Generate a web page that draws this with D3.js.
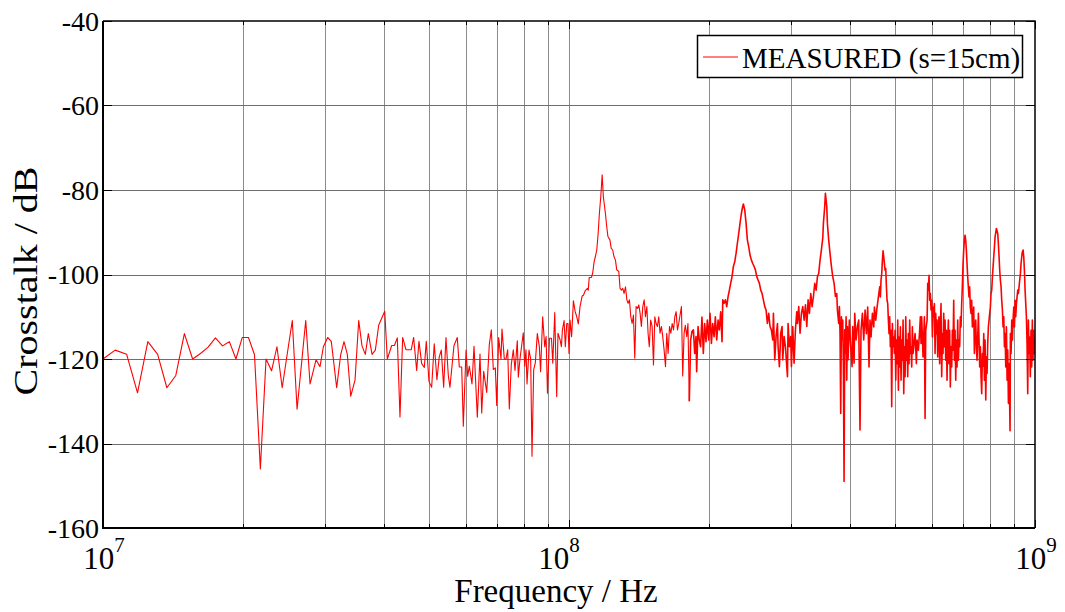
<!DOCTYPE html>
<html>
<head>
<meta charset="utf-8">
<script src="https://cdn.jsdelivr.net/npm/d3@7/dist/d3.min.js"></script>
<style>
  body { margin: 0; background: #fff; }
  svg { display: block; font-family: 'Liberation Serif', 'Times New Roman', serif; }
  .grid line { stroke: #8c8c8c; stroke-width: 1; shape-rendering: crispEdges; }
  .tick-mark { stroke: #000; stroke-width: 1.2; shape-rendering: crispEdges; }
  .trace { fill: none; stroke: #ff0000; stroke-width: 1.1; stroke-linejoin: round; }
  .trace.dense { stroke-width: 1.6; }
</style>
</head>
<body>
<svg id="chart" width="1065" height="612"></svg>
<script>
// measured crosstalk, [frequency in MHz, level in dB]
const sweepLow = [
  [10.00, -120], [10.62, -117.9], [11.24, -118.9], [11.86, -128], [12.48, -115.9], [13.10, -118.9],
  [13.71, -126.8], [14.33, -123.9], [14.95, -114], [15.57, -120], [16.19, -118.7], [16.81, -117.2],
  [17.43, -115], [18.05, -116.9], [18.67, -115.9], [19.29, -120], [19.90, -114.9], [20.52, -114.9],
  [21.14, -119], [21.76, -146], [22.38, -120], [23.00, -122.8], [23.62, -117.1], [24.24, -126.8],
  [24.86, -118.7], [25.48, -110.9], [26.09, -131.9], [27.23, -110.9], [27.82, -125.9], [28.65, -120.2],
  [29.22, -121.8], [29.71, -117.1], [30.35, -114.9], [30.90, -115.9], [31.73, -126.8], [32.36, -119],
  [32.90, -115.9], [33.44, -118.9], [34.01, -128.8], [34.74, -125], [35.38, -110.9], [35.96, -116.9],
  [36.55, -118.9], [37.10, -114], [37.79, -118.9], [38.41, -117.9], [39.05, -112]
]

const sweepMid = [
  [40.23, -108.7], [40.75, -120], [41.64, -116.8], [42.19, -116.8], [42.81, -115], [43.38, -133.7],
  [43.96, -114.9], [44.68, -117.8], [45.87, -117.8], [46.41, -114.9], [47.11, -122.7], [47.65, -115.8],
  [48.29, -121.1], [48.92, -122], [49.40, -115.8], [50.06, -125.3], [50.73, -126.7], [51.38, -116.4],
  [52.07, -124.9], [52.67, -119.5], [53.20, -117.9], [53.83, -126.7], [54.45, -114.9], [55.08, -123.9],
  [55.53, -126.7], [56.65, -116.8], [57.58, -114.9], [58.16, -121.9], [58.85, -121.9], [59.32, -135.9],
  [60.12, -117.9], [60.62, -124.1], [61.11, -121.7], [61.92, -125.9], [62.54, -117], [63.57, -133.8],
  [64.42, -118.8], [64.97, -132.8], [65.60, -122.9], [66.59, -127.9], [67.45, -116.6], [68.12, -113.1],
  [68.80, -122.5], [69.49, -122.1], [69.97, -131], [70.65, -114.9], [71.46, -120], [71.81, -112.9],
  [72.64, -120], [73.25, -120], [73.86, -117.8], [74.46, -131.8], [75.20, -121.2], [75.95, -117.8],
  [76.58, -122.7], [77.46, -115.7], [77.84, -124.3], [78.49, -120], [79.78, -113.8], [80.33, -121.7],
  [80.85, -117.8], [81.26, -125.9], [82.07, -117.9], [82.75, -120], [83.29, -143], [83.99, -122.5],
  [84.67, -120.9], [85.51, -114], [86.36, -117]
]

// first resonance (~118 MHz) and the floor up to 180 MHz
const sweepPeak1 = [
  [86.9, -123], [87.8, -110], [88.7, -117.1], [89.3, -114.7], [89.9, -128.1], [90.8, -115.1],
  [91.7, -115.1], [92.3, -121], [93.2, -109], [94.1, -128.9], [94.7, -113.9], [95.7, -115.5],
  [96.3, -117.1], [96.8, -113.1], [97.6, -110.9], [98.2, -117.1], [98.9, -111.6], [99.5, -111.6],
  [100.0, -118.7], [100.5, -110.8], [101.3, -114.7], [102.2, -106.2], [103.1, -108.8], [103.9, -110],
  [104.7, -111.7], [105.6, -107.6], [106.7, -105.1], [107.4, -104.9], [108.4, -103.8], [109.5, -103.3],
  [110.0, -103.7], [110.5, -100.7], [111.7, -100.7], [112.4, -99.7], [113.2, -97], [113.9, -95.8],
  [114.7, -94.2], [115.5, -90.3], [116.2, -85.5], [117.0, -81.6], [117.8, -76.4], [118.5, -81.6],
  [119.7, -85.5], [120.5, -88.7], [121.2, -91], [122.4, -91.8], [123.2, -93.8], [124.1, -94.2],
  [124.9, -95.8], [125.8, -96.6], [126.6, -98.9], [127.9, -99.3], [128.7, -103.3], [129.6, -103.7],
  [130.4, -103.3], [131.3, -104.5], [132.2, -102.9], [133.1, -106], [133.9, -106.8], [134.8, -106],
  [135.7, -110], [136.6, -111.6], [137.5, -109.6], [138.4, -119.8], [139.3, -107.6], [140.3, -108],
  [141.2, -107.2], [142.1, -109.2], [143.0, -112.3], [144.0, -107.6], [145.0, -106], [145.9, -110],
  [146.9, -107.6], [147.8, -113.9], [148.7, -117.1], [149.7, -110.8], [150.8, -112.3], [151.8, -121.4],
  [152.8, -110], [153.8, -111.6], [154.8, -112.3], [155.8, -110], [156.8, -113.9], [157.9, -112.3],
  [158.9, -114.7], [160.0, -117.9], [161.1, -121.8], [162.1, -113.9], [163.2, -118.7], [164.3, -112.3],
  [165.4, -113.9], [166.5, -111.6], [167.6, -113.1], [168.7, -110], [169.8, -108.8], [170.9, -113.1],
  [172.0, -111.6], [173.1, -109.6], [174.3, -107.6], [175.4, -124], [176.6, -113.9], [177.7, -112],
  [178.9, -114.7], [180.0, -111.6], [181.2, -130]
]

// second and third resonances (~237 MHz, ~355 MHz)
const sweepPeak23 = [
  [182.4, -115.5], [183.6, -113.5], [184.9, -113.1], [186.1, -118.7], [187.3, -114.7], [187.9, -123],
  [189.2, -112.3], [190.4, -115.5], [191.6, -117.1], [192.9, -110.1], [194.2, -118.7], [195.5, -111.6],
  [196.8, -115.9], [198.1, -110.8], [199.4, -115.5], [200.7, -109.2], [202.1, -116.3], [203.4, -111.6],
  [204.8, -114.7], [206.1, -110], [207.5, -115.5], [208.9, -110.8], [210.2, -113.1], [211.6, -108.8],
  [213.0, -115.9], [213.8, -106], [215.2, -106.8], [216.6, -106], [218.0, -107.6], [219.5, -105.2],
  [220.9, -103.7], [222.3, -102.1], [223.8, -100.5], [225.3, -98.1], [226.8, -97], [228.3, -95],
  [229.8, -92.6], [231.3, -90.3], [232.8, -87.9], [234.4, -85.5], [235.9, -83.9], [236.7, -83.3],
  [238.3, -84.7], [239.9, -87.9], [241.4, -91.8], [243.0, -93.4], [244.6, -95.4], [246.3, -96.6],
  [247.9, -97.4], [249.6, -98.1], [251.2, -98.9], [252.9, -100.5], [254.5, -101.3], [256.2, -102.1],
  [257.9, -103.7], [259.6, -104.5], [261.3, -106], [263.1, -107.6], [264.8, -108.4], [266.5, -111.6],
  [268.3, -109.2], [270.0, -112.3], [271.8, -113.1], [273.7, -115.5], [274.6, -109.2], [276.4, -120.2],
  [278.2, -114.7], [280.1, -111.6], [281.0, -117.1], [282.8, -121.8], [284.7, -113.9], [286.6, -112.3],
  [287.5, -120.2], [289.5, -114.7], [291.4, -117.1], [293.3, -121.8], [294.3, -124.2], [295.2, -111.6],
  [297.1, -117.1], [299.1, -114.7], [300.1, -121.8], [302.1, -112.3], [304.1, -121], [306.1, -113.1],
  [308.2, -108.8], [309.2, -111.6], [311.2, -107.6], [313.2, -113.9], [315.3, -109.2], [317.4, -107.6],
  [319.6, -110.8], [321.7, -107.2], [323.8, -112.3], [325.9, -106], [328.0, -109.2], [330.2, -104.5],
  [332.4, -107.6], [334.6, -105.2], [336.8, -102.1], [339.1, -103.7], [341.3, -100.5], [343.5, -99.7],
  [345.7, -96.6], [348.0, -94.2], [350.4, -91.4], [351.5, -87.9], [353.8, -83.9], [355.0, -80.8],
  [357.4, -83.9], [358.5, -87.9], [360.8, -91.8], [363.2, -95], [365.7, -98.1], [368.1, -100.5],
  [370.6, -102.1], [373.0, -105.2], [375.5, -104.5], [376.7, -108.4], [379.1, -111.6], [380.4, -107.6],
  [381.6, -113.9], [382.9, -132.9], [384.2, -110], [385.5, -115.5], [386.7, -110.8], [388.0, -121.8],
  [389.3, -149], [390.6, -113.1], [391.9, -118.7], [393.2, -110], [394.5, -125], [395.7, -112.3],
  [397.0, -120.2], [399.6, -110.8], [402.3, -117.1], [405.0, -121.8], [406.3, -112.3], [409.0, -121],
  [410.4, -109.2], [413.1, -115.5], [415.8, -112.3], [418.5, -110.8]
]

// upper band: resonances near 472, 708, 826 and 940 MHz
const sweepHigh = [
  [421.2, -136.8], [423.3, -113.2], [426.2, -109.2], [429.0, -115.5], [431.9, -108.4], [434.7, -114],
  [437.5, -107.7], [440.4, -121.9], [442.5, -110.8], [444.8, -114.8], [447.8, -109.2], [450.8, -112.4],
  [452.3, -107.7], [455.3, -110.8], [458.3, -107.7], [461.3, -105.3], [464.3, -102.9], [465.8, -105.3],
  [467.3, -101.3], [468.9, -99.8], [470.5, -96.6], [472.0, -94.4], [473.6, -95.8], [475.2, -97.4],
  [476.7, -99], [478.3, -98.6], [479.9, -102.9], [481.4, -106.1], [483.0, -106.9], [484.6, -110.8],
  [486.2, -114], [487.7, -110], [489.3, -117.1], [491.0, -113.2], [492.6, -131.3], [494.3, -111.6],
  [495.9, -117.1], [497.6, -114.8], [499.2, -118.7], [500.9, -113.2], [502.6, -125], [504.2, -115.5],
  [505.9, -121.1], [507.5, -110.8], [509.2, -127.4], [510.8, -114.8], [512.5, -121.9], [514.2, -112.4],
  [515.9, -125], [517.6, -115.5], [519.4, -120.3], [521.1, -110.8], [522.8, -128.2], [524.5, -117.1],
  [526.3, -124.2], [528.0, -110], [529.7, -120.3], [531.5, -115.5], [533.2, -124.2], [534.9, -114],
  [536.7, -121.1], [538.4, -110.8], [540.2, -118.7], [542.0, -117.1], [543.8, -121.9], [545.6, -112.4],
  [547.5, -118.7], [549.3, -117.1], [552.9, -114], [556.5, -121.1], [558.4, -115.5], [562.0, -117.9],
  [565.6, -113.2], [567.5, -110], [569.4, -116.3], [571.3, -110], [575.1, -119.5], [579.0, -110],
  [580.9, -134.1], [582.8, -113.2], [586.7, -110.8], [588.6, -102.1], [590.5, -103.7], [592.4, -100.2],
  [594.3, -106.1], [596.3, -104.5], [598.3, -108.4], [600.3, -106.1], [602.3, -114.8], [604.3, -107.7],
  [606.3, -110], [608.3, -106.9], [610.3, -118.7], [612.3, -109.2], [614.3, -114], [616.3, -110.8],
  [618.3, -119.5], [620.3, -113.2], [622.3, -110], [624.3, -121.1], [626.4, -113.2], [628.5, -106.9],
  [630.6, -124.2], [632.7, -114], [634.8, -118.7], [636.9, -109.2], [639.1, -117.1], [641.2, -110.8],
  [643.3, -120.3], [645.4, -113.2], [647.5, -125], [649.7, -115.5], [651.8, -110.8], [653.9, -121.1],
  [656.0, -113.2], [658.1, -126.6], [660.3, -117.1], [662.6, -121.9], [664.8, -113.2], [667.0, -117.9],
  [669.2, -106.1], [671.4, -120.3], [673.7, -113.2], [675.9, -125], [678.1, -115.5], [680.3, -121.9],
  [682.5, -110.8], [684.8, -120.3], [687.0, -115.5], [689.2, -117.1], [691.5, -110], [693.8, -112.4],
  [696.1, -106.9], [698.4, -102.9], [700.8, -97.4], [703.1, -94.2], [705.4, -91.9], [707.8, -90.7],
  [710.1, -91.9], [712.4, -94.2], [714.7, -97.4], [717.1, -100.6], [719.4, -102.9], [721.7, -105.3],
  [724.0, -102.9], [726.4, -107.7], [728.9, -109.2], [731.4, -106.1], [733.8, -112.4], [736.3, -110.8],
  [738.7, -107.7], [741.2, -118.7], [743.7, -113.2], [746.1, -110.8], [748.6, -117.1], [751.0, -120.3],
  [753.5, -114.8], [756.0, -109.2], [758.4, -115.5], [760.9, -121.9], [763.4, -117.1], [766.0, -124.2],
  [768.5, -128.2], [771.1, -118.7], [773.7, -121.7], [776.3, -114], [778.8, -125], [781.4, -115.5],
  [784.0, -129.7], [786.6, -119.5], [789.1, -123.4], [791.7, -116.3], [794.3, -112.4], [796.9, -110.8],
  [799.4, -109.2], [802.1, -107.7], [804.8, -104.5], [807.5, -103.7], [810.2, -100.6], [812.9, -98.2],
  [815.6, -95.8], [818.3, -93.5], [821.0, -91.1], [826.4, -89.1], [831.8, -90.3], [834.5, -92.7],
  [837.3, -95.8], [840.0, -99], [842.7, -101.3], [845.6, -102.9], [848.4, -106.1], [851.3, -108.4],
  [854.1, -112.4], [857.0, -110], [859.8, -117.1], [862.6, -114], [865.5, -121.9], [868.3, -112.4],
  [871.2, -125], [874.0, -117.9], [876.9, -130.5], [879.7, -121.1], [884.0, -137], [885.5, -114],
  [888.5, -118.7], [891.5, -110.8], [894.5, -115.5], [897.4, -110.8], [900.4, -107.7], [903.4, -112.4],
  [906.4, -106.1], [909.3, -110], [912.3, -106.9], [915.3, -105.3], [918.3, -103.7], [921.2, -104.5],
  [924.2, -102.9], [927.2, -101.3], [930.3, -99.8], [933.4, -97.4], [936.5, -95.8], [939.7, -94.6],
  [942.8, -94.2], [945.9, -95.8], [949.0, -99], [952.2, -103.7], [955.3, -106.9], [958.4, -110],
  [961.5, -116.3], [964.7, -128.2], [967.8, -110.8], [970.9, -118.7], [974.1, -114.8], [977.2, -124.2],
  [980.5, -113.2], [983.7, -121.9], [987.0, -110.8], [990.2, -120.3], [993.5, -113.2], [996.7, -118.7],
  [1000.0, -115.5]
]

const yTicks = [-160, -140, -120, -100, -80, -60, -40]
const xDecades = [1e7, 1e8, 1e9]
const xExponents = ['7', '8', '9']
const legendLabel = 'MEASURED (s=15cm)'
const xTitle = 'Frequency / Hz'
const yTitle = 'Crosstalk / dB'

let svg = d3.select('#chart')
let plot = {left: 103, right: 1035, top: 21, bottom: 528}

let x = d3.scaleLog().domain([1e7, 1e9]).range([plot.left, plot.right])
let y = d3.scaleLinear().domain([-160, -40]).range([plot.bottom, plot.top])

// every 2..9 multiple inside each decade, plus the middle decade
let gridX = []
xDecades.slice(0, 2).forEach((d) => {
  d3.range(2, 10).forEach((m) => gridX.push(d * m))
})
gridX.push(1e8)

svg.append('rect').attr('width', 1065).attr('height', 612).attr('fill', '#fff')

// grid
let grid = svg.append('g').attr('class', 'grid')
grid.selectAll('.gx')
  .data(gridX)
  .enter()
  .append('line')
  .attr('x1', (d) => Math.round(x(d)) + 0.5)
  .attr('x2', (d) => Math.round(x(d)) + 0.5)
  .attr('y1', plot.top)
  .attr('y2', plot.bottom)
grid.selectAll('.gy')
  .data(yTicks.slice(1, -1))
  .enter()
  .append('line')
  .attr('x1', plot.left)
  .attr('x2', plot.right)
  .attr('y1', (d) => Math.round(y(d)) + 0.5)
  .attr('y2', (d) => Math.round(y(d)) + 0.5)
  .style('stroke', '#6e6e6e')

// trace
svg.append('clipPath').attr('id', 'clip')
  .append('rect')
  .attr('x', plot.left).attr('y', plot.top)
  .attr('width', plot.right - plot.left).attr('height', plot.bottom - plot.top)

let line = d3.line()
  .x((d) => x(d[0] * 1e6))
  .y((d) => y(d[1]))

// the sweep points get very close above ~180 MHz, where the original trace
// reads as a heavier band; draw that part a bit thicker
let sparse = [].concat(sweepLow, sweepMid, sweepPeak1)
let dense = [sweepPeak1[sweepPeak1.length - 1]].concat(sweepPeak23, sweepHigh)

svg.append('path')
  .attr('class', 'trace')
  .attr('clip-path', 'url(#clip)')
  .datum(sparse)
  .attr('d', line)
svg.append('path')
  .attr('class', 'trace dense')
  .attr('clip-path', 'url(#clip)')
  .datum(dense)
  .attr('d', line)

// tick marks, pointing inwards on all four sides
let ticks = svg.append('g')
ticks.selectAll('.tb')
  .data(gridX.concat(xDecades))
  .enter()
  .append('line')
  .attr('class', 'tick-mark')
  .attr('x1', (d) => Math.round(x(d)) + 0.5)
  .attr('x2', (d) => Math.round(x(d)) + 0.5)
  .attr('y1', plot.bottom)
  .attr('y2', (d) => plot.bottom - (xDecades.includes(d) ? 8 : 4))
ticks.selectAll('.tt')
  .data(gridX.concat(xDecades))
  .enter()
  .append('line')
  .attr('class', 'tick-mark')
  .attr('x1', (d) => Math.round(x(d)) + 0.5)
  .attr('x2', (d) => Math.round(x(d)) + 0.5)
  .attr('y1', plot.top)
  .attr('y2', (d) => plot.top + (xDecades.includes(d) ? 8 : 4))
ticks.selectAll('.tl')
  .data(yTicks)
  .enter()
  .append('line')
  .attr('class', 'tick-mark')
  .attr('x1', plot.left)
  .attr('x2', plot.left + 9)
  .attr('y1', (d) => Math.round(y(d)) + 0.5)
  .attr('y2', (d) => Math.round(y(d)) + 0.5)
ticks.selectAll('.tr')
  .data(yTicks)
  .enter()
  .append('line')
  .attr('class', 'tick-mark')
  .attr('x1', plot.right)
  .attr('x2', plot.right - 9)
  .attr('y1', (d) => Math.round(y(d)) + 0.5)
  .attr('y2', (d) => Math.round(y(d)) + 0.5)

// axes box
let box = svg.append('g').attr('stroke', '#000').attr('fill', 'none')
box.append('path')
  .attr('stroke-width', 2)
  .attr('d', `M${plot.left},${plot.top}V${plot.bottom}H${plot.right}`)
box.append('path')
  .attr('stroke-width', 1.5)
  .attr('d', `M${plot.left},${plot.top}H${plot.right}V${plot.bottom}`)

// tick labels
svg.selectAll('.ylabel')
  .data(yTicks)
  .enter()
  .append('text')
  .attr('x', plot.left - 4)
  .attr('y', (d) => y(d))
  .attr('dy', '0.34em')
  .attr('text-anchor', 'end')
  .attr('font-size', 28)
  .text((d) => d)

// the middle decade label sits a little left of its tick in the original
let xl = svg.selectAll('.xlabel')
  .data(xDecades)
  .enter()
  .append('text')
  .attr('x', (d, i) => x(d) + (i === 1 ? -10 : 1))
  .attr('y', 569)
  .attr('text-anchor', 'middle')
  .attr('font-size', 31)
xl.append('tspan').text('10')
xl.append('tspan')
  .attr('font-size', 21)
  .attr('dy', -17)
  .text((d, i) => xExponents[i])

// axis titles
svg.append('text')
  .attr('x', 556)
  .attr('y', 602)
  .attr('text-anchor', 'middle')
  .attr('font-size', 33)
  .text(xTitle)

svg.append('text')
  .attr('transform', 'translate(37,281) rotate(-90) scale(1,0.85)')
  .attr('text-anchor', 'middle')
  .attr('font-size', 40)
  .text(yTitle)

// legend
let legend = svg.append('g')
legend.append('rect')
  .attr('x', 697.5).attr('y', 35.5)
  .attr('width', 325).attr('height', 42)
  .attr('fill', '#fff').attr('stroke', '#000').attr('stroke-width', 1.5)
legend.append('line')
  .attr('x1', 703).attr('x2', 738)
  .attr('y1', 57).attr('y2', 57)
  .attr('stroke', '#ff0000').attr('stroke-width', 1)
legend.append('text')
  .attr('x', 742).attr('y', 68)
  .attr('font-size', 29)
  .text(legendLabel)
</script>
</body>
</html>
